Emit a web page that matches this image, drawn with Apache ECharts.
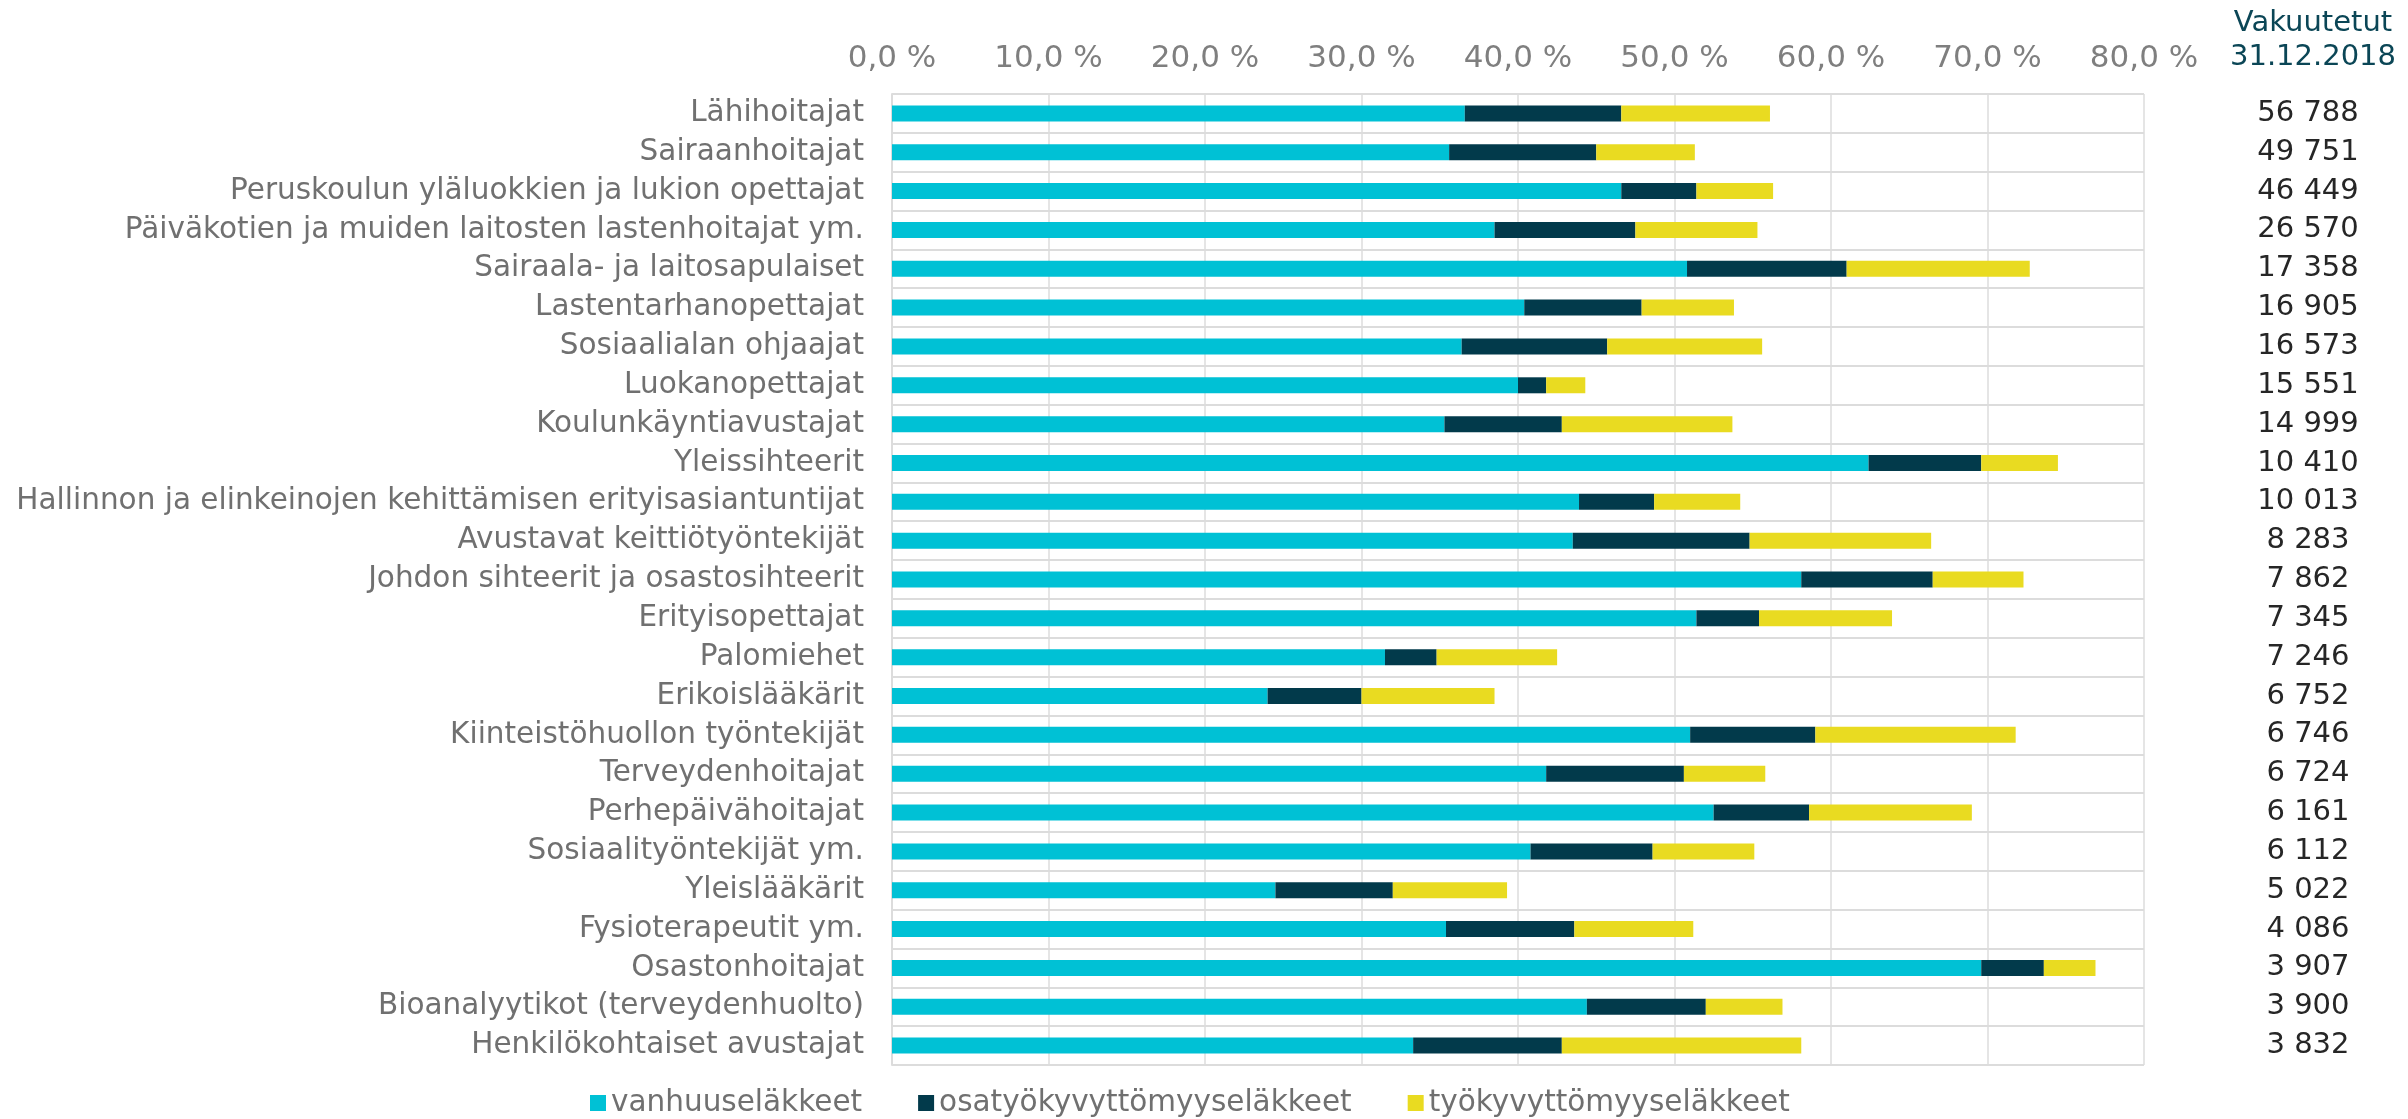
<!DOCTYPE html>
<html>
<head>
<meta charset="utf-8">
<script src="https://cdn.jsdelivr.net/npm/echarts@6/dist/echarts.min.js"></script>
<style>
  html, body { margin: 0; padding: 0; background: #fff; }
  #chart { width: 2408px; height: 1119px; }
</style>
</head>
<body>
<div id="chart"></div>
<script>
// ammattiryhmät (ylhäältä alas)
var categories = [
  'Lähihoitajat',
  'Sairaanhoitajat',
  'Peruskoulun yläluokkien ja lukion opettajat',
  'Päiväkotien ja muiden laitosten lastenhoitajat ym.',
  'Sairaala- ja laitosapulaiset',
  'Lastentarhanopettajat',
  'Sosiaalialan ohjaajat',
  'Luokanopettajat',
  'Koulunkäyntiavustajat',
  'Yleissihteerit',
  'Hallinnon ja elinkeinojen kehittämisen erityisasiantuntijat',
  'Avustavat keittiötyöntekijät',
  'Johdon sihteerit ja osastosihteerit',
  'Erityisopettajat',
  'Palomiehet',
  'Erikoislääkärit',
  'Kiinteistöhuollon työntekijät',
  'Terveydenhoitajat',
  'Perhepäivähoitajat',
  'Sosiaalityöntekijät ym.',
  'Yleislääkärit',
  'Fysioterapeutit ym.',
  'Osastonhoitajat',
  'Bioanalyytikot (terveydenhuolto)',
  'Henkilökohtaiset avustajat'
];

// vakuutetut 31.12.2018
var insured = [
  '56 788', '49 751', '46 449', '26 570', '17 358', '16 905', '16 573', '15 551', '14 999',
  '10 410', '10 013', '8 283', '7 862', '7 345', '7 246', '6 752', '6 746', '6 724',
  '6 161', '6 112', '5 022', '4 086', '3 907', '3 900', '3 832'
];

// osuudet %
var vanhuus = [36.6, 35.6, 46.6, 38.5, 50.8, 40.4, 36.4, 40.0, 35.3, 62.4, 43.9, 43.5, 58.1,
  51.4, 31.5, 24.0, 51.0, 41.8, 52.5, 40.8, 24.5, 35.4, 69.6, 44.4, 33.3];
var osatyokyvyttomyys = [10.0, 9.4, 4.8, 9.0, 10.2, 7.5, 9.3, 1.8, 7.5, 7.2, 4.8, 11.3, 8.4,
  4.0, 3.3, 6.0, 8.0, 8.8, 6.1, 7.8, 7.5, 8.2, 4.0, 7.6, 9.5];
var tyokyvyttomyys = [9.5, 6.3, 4.9, 7.8, 11.7, 5.9, 9.9, 2.5, 10.9, 4.9, 5.5, 11.6, 5.8,
  8.5, 7.7, 8.5, 12.8, 5.2, 10.4, 6.5, 7.3, 7.6, 3.3, 4.9, 15.3];

var font = 'DejaVu Sans';

var chart = echarts.init(document.getElementById('chart'));

function barSeries(name, data, color) {
  return {
    name: name,
    type: 'bar',
    stack: 'total',
    barWidth: 16,
    data: data,
    itemStyle: { color: color }
  };
}

var option = {
  animation: false,
  textStyle: { fontFamily: font },
  grid: { left: 892, right: 264, top: 94, bottom: 54 },
  legend: {
    top: 1088,
    left: 590,
    padding: 0,
    itemWidth: 16,
    itemHeight: 16,
    itemGap: 56,
    icon: 'rect',
    textStyle: { fontFamily: font, fontSize: 29.5, color: '#707070' },
    data: ['vanhuuseläkkeet', 'osatyökyvyttömyyseläkkeet', 'työkyvyttömyyseläkkeet']
  },
  graphic: [{
    type: 'text',
    x: 2313,
    y: 6,
    style: {
      text: 'Vakuutetut\n31.12.2018',
      textAlign: 'center',
      textVerticalAlign: 'top',
      font: '29px "DejaVu Sans"',
      lineHeight: 34,
      fill: '#0b4656'
    }
  }],
  xAxis: {
    type: 'value',
    position: 'top',
    min: 0,
    max: 80,
    interval: 10,
    axisLine: { show: false },
    axisTick: { show: false },
    axisLabel: {
      margin: 20,
      fontSize: 31,
      color: '#7f7f7f',
      formatter: function (v) { return v.toFixed(1).replace('.', ',') + ' %'; }
    },
    splitLine: { lineStyle: { color: '#dcdcdc', width: 1.5 } }
  },
  yAxis: [
    {
      type: 'category',
      inverse: true,
      data: categories,
      axisLine: { show: true, lineStyle: { color: '#dcdcdc', width: 2 } },
      axisTick: { show: false },
      axisLabel: { interval: 0, margin: 28, fontSize: 29.5, color: '#707070' },
      splitLine: { show: true, interval: 0, lineStyle: { color: '#dcdcdc', width: 2 } }
    },
    {
      type: 'category',
      inverse: true,
      position: 'right',
      data: insured,
      axisLine: { show: false },
      axisTick: { show: false },
      splitLine: { show: false },
      axisLabel: { interval: 0, margin: 164, align: 'center', fontSize: 29, color: '#262626' }
    }
  ],
  series: [
    barSeries('vanhuuseläkkeet', vanhuus, '#00c1d5'),
    barSeries('osatyökyvyttömyyseläkkeet', osatyokyvyttomyys, '#023a4b'),
    barSeries('työkyvyttömyyseläkkeet', tyokyvyttomyys, '#e9db21')
  ]
};

chart.setOption(option);
</script>
</body>
</html>
